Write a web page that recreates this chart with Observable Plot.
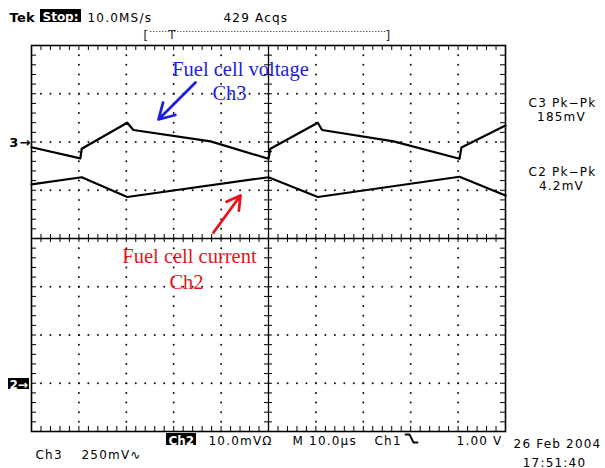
<!DOCTYPE html>
<html><head><meta charset="utf-8">
<script src="https://cdn.jsdelivr.net/npm/d3@7"></script>
<script src="https://cdn.jsdelivr.net/npm/@observablehq/plot@0.6"></script>
<style>body{margin:0;background:#fff}</style>
</head><body><div id="chart"></div>
<script>
// ---- Data ----
// Ch3: fuel cell voltage (AC coupled, 250 mV/div, marker at +2 div)
const ch3Time = [0, 10.3, 10.6, 20.2, 21.5, 37.8, 50.0, 50.4, 60.4, 61.3, 76.4, 90.3, 90.7, 100];
const ch3mV   = [-27, -85, -35, 100, 62, 3, -87, -35, 100, 62, 3, -87, -28, 85];
// Ch2: fuel cell current (10.0 mV/div, marker at -3 div)
const ch2Time = [0, 10.6, 20.2, 50.0, 60.4, 90.3, 100];
const ch2mV   = [41.2, 42.7, 38.6, 42.7, 38.6, 42.8, 38.9];
const ch3Scale = 250, ch3Offset = 2;
const ch2Scale = 10, ch2Offset = -3;

const ch3 = ch3Time.map((t, i) => ({t, v: ch3mV[i]}));
const ch2 = ch2Time.map((t, i) => ({t, v: ch2mV[i]}));

// ---- Layout ----
const W = 605, H = 468, ML = 31, MR = 100, MT = 45, MB = 37;
const FW = W - ML - MR, FH = H - MT - MB;
const X = px => (px - ML) / FW * 100;
const Y = py => 4 - (py - MT) / FH * 8;

// graticule
const vLines = d3.range(1, 10).filter(k => k !== 5).map(k => k * 10);
const hLines = d3.range(-3, 4).filter(k => k !== 0);
const gridDots = [];
for (const x of vLines) for (let j = 1; j < 40; j++) gridDots.push({x, y: -4 + j * 0.2});
for (const y of hLines) for (let j = 1; j < 50; j++) gridDots.push({x: j * 2, y});
const xMinor = d3.range(1, 50).map(j => j * 2);
const yMinor = d3.range(1, 40).map(j => -4 + j * 0.2);

const screenLabels = [
  {t: "10.0MS/s", x: 87, y: 21, a: "start"},
  {t: "429 Acqs", x: 223, y: 21, a: "start"},
  {t: "C3 Pk\u2212Pk", x: 562, y: 106.5, a: "middle"},
  {t: "185mV", x: 561, y: 120, a: "middle"},
  {t: "C2 Pk\u2212Pk", x: 562, y: 175.5, a: "middle"},
  {t: "4.2mV", x: 561, y: 189, a: "middle"},
  {t: "10.0mV\u03A9", x: 208, y: 444, a: "start"},
  {t: "M 10.0\u00B5s", x: 292, y: 444, a: "start"},
  {t: "Ch1", x: 374, y: 444, a: "start"},
  {t: "1.00 V", x: 502, y: 444, a: "end"},
  {t: "26 Feb 2004", x: 557, y: 447, a: "middle"},
  {t: "17:51:40", x: 554, y: 466, a: "middle"},
  {t: "Ch3", x: 35, y: 458, a: "start"},
  {t: "250mV\u223F", x: 81, y: 458, a: "start"}
];
const invBoxes = [
  {x1: 40, x2: 81, y1: 9, y2: 22, t: "Stop:", tx: 42, ty: 20},
  {x1: 166, x2: 196, y1: 433, y2: 445, t: "Ch2", tx: 168, ty: 444},
  {x1: 8, x2: 29, y1: 378, y2: 389, t: "2\u2192", tx: 9, ty: 388}
];
const annotations = [
  {t: "Fuel cell voltage", x: 240, y: 75, c: "#1e1ee0"},
  {t: "Ch3", x: 229, y: 99, c: "#1e1ee0"},
  {t: "Fuel cell current", x: 189, y: 262, c: "#e8141b"},
  {t: "Ch2", x: 186, y: 288, c: "#e8141b"}
];
const arrows = [
  {x1: 195, y1: 82, x2: 158, y2: 119, c: "#1e1ee0"},
  {x1: 213, y1: 232, x2: 240, y2: 195, c: "#e8141b"}
];
const edgeGlyph = [{x: 405, y: 434}, {x: 409, y: 434}, {x: 413, y: 442}, {x: 417, y: 442}];

const labelMark = anchor => Plot.text(screenLabels.filter(d => d.a === anchor), {
  x: d => X(d.x), y: d => Y(d.y), text: "t", textAnchor: anchor, fontSize: 12, lineAnchor: "bottom"
});

const chart = Plot.plot({
  width: W, height: H,
  marginLeft: ML, marginRight: MR, marginTop: MT, marginBottom: MB,
  x: {domain: [0, 100], axis: null},
  y: {domain: [-4, 4], axis: null},
  style: {fontFamily: "DejaVu Sans", background: "white", color: "black"},
  marks: [
    Plot.dot(gridDots, {x: "x", y: "y", r: 1, fill: "#111", stroke: null}),
    Plot.ruleX([50], {stroke: "black", strokeWidth: 1.3}),
    Plot.ruleY([0], {stroke: "black", strokeWidth: 1.3}),
    Plot.tickX(xMinor, {x: d => d, insetBottom: FH - 5, stroke: "black"}),
    Plot.tickX(xMinor, {x: d => d, insetTop: FH - 5, stroke: "black"}),
    Plot.tickX(xMinor, {x: d => d, insetTop: FH / 2 - 4, insetBottom: FH / 2 - 4, stroke: "black"}),
    Plot.tickY(yMinor, {y: d => d, insetRight: FW - 5, stroke: "black"}),
    Plot.tickY(yMinor, {y: d => d, insetLeft: FW - 5, stroke: "black"}),
    Plot.tickY(yMinor, {y: d => d, insetLeft: FW / 2 - 4, insetRight: FW / 2 - 4, stroke: "black"}),
    Plot.frame({stroke: "black", strokeWidth: 1.6}),
    // waveforms
    Plot.line(ch3, {x: "t", y: d => ch3Offset + d.v / ch3Scale, stroke: "black", strokeWidth: 2.2}),
    Plot.line(ch2, {x: "t", y: d => ch2Offset + d.v / ch2Scale, stroke: "black", strokeWidth: 2.2}),
    // annotations
    Plot.arrow(arrows, {x1: d => X(d.x1), y1: d => Y(d.y1), x2: d => X(d.x2), y2: d => Y(d.y2), stroke: "c", strokeWidth: 2.8, headLength: 11}),
    Plot.text(annotations, {x: d => X(d.x), y: d => Y(d.y), text: "t", fill: "c", fontSize: 20.5, fontFamily: "Liberation Serif", lineAnchor: "bottom", textAnchor: "middle"}),
    // screen readouts
    Plot.text(["Tek"], {x: X(9), y: Y(21), text: d => d, fontWeight: "bold", fontSize: 13, fontFamily: "DejaVu Sans Tek", textAnchor: "start", lineAnchor: "bottom"}),
    labelMark("start"), labelMark("middle"), labelMark("end"),
    Plot.rect(invBoxes, {x1: d => X(d.x1), x2: d => X(d.x2), y1: d => Y(d.y1), y2: d => Y(d.y2), fill: "black"}),
    Plot.text(invBoxes, {x: d => X(d.tx), y: d => Y(d.ty), text: "t", fill: "white", fontWeight: "bold", fontSize: 12, fontFamily: "DejaVu Sans Inv", textAnchor: "start", lineAnchor: "bottom"}),
    Plot.text(["3\u2192"], {x: X(31), y: Y(146), text: d => d, fontSize: 13, fontWeight: "bold", textAnchor: "end", lineAnchor: "bottom"}),
    Plot.line(edgeGlyph, {x: d => X(d.x), y: d => Y(d.y), stroke: "black", strokeWidth: 1.8}),
    // trigger position bar
    Plot.ruleY([Y(31)], {x1: X(150), x2: X(386), stroke: "#666", strokeWidth: 1, strokeDasharray: "1.5,1.5"}),
    Plot.text(["[", "]"], {x: (d, i) => X(i ? 388 : 146), y: Y(39), text: d => d, fontSize: 13, textAnchor: "middle", lineAnchor: "bottom", fill: "#333"}),
    Plot.text(["T"], {x: X(172), y: Y(38), text: d => d, fontSize: 12, textAnchor: "middle", lineAnchor: "bottom", fill: "#333"})
  ]
});
const svg = d3.select(chart);
svg.style("letter-spacing", "1.2px");
svg.selectAll("g[font-family='Liberation Serif']").style("letter-spacing", "0px");
svg.selectAll("g[font-family='DejaVu Sans Tek']").attr("font-family", "DejaVu Sans").style("letter-spacing", "0.3px");
svg.selectAll("g[font-family='DejaVu Sans Inv']").attr("font-family", "DejaVu Sans").style("letter-spacing", "0px");
document.getElementById("chart").appendChild(chart);
</script>
</body></html>
